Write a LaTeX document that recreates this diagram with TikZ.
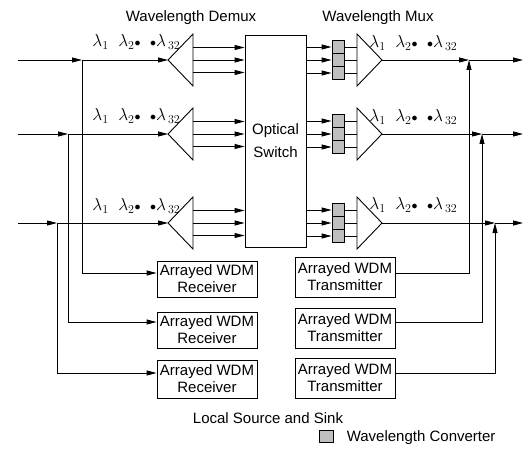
\documentclass[tikz,border=0pt]{standalone}
\usepackage{fontspec}
\setmainfont{Liberation Sans}
\usetikzlibrary{arrows.meta,calc}
\begin{document}
\begin{tikzpicture}[x=1pt,y=-1pt,line width=0.9pt,
 arr/.style={-{Triangle[length=10pt,width=5pt]}},
 conv/.style={draw,fill=gray!50,minimum width=12pt,minimum height=13pt,inner sep=0pt},
 wdmbox/.style={draw,minimum width=100pt,inner sep=1pt,align=center,font=\fontsize{15}{17}\selectfont},
 lbl/.style={font=\fontsize{15}{17}\selectfont},
 lam/.style={anchor=west,inner sep=0pt,font=\fontsize{17}{19}\selectfont}]
\useasboundingbox (0,0) rectangle (532,470);
\node[lbl] (tdemux) at (191,18) {Wavelength Demux};
\node[lbl] (tmux) at (378,18) {Wavelength Mux};
\node[draw,minimum width=61pt,minimum height=212pt,align=center,font=\fontsize{15}{17}\selectfont] (sw) at (275.5,141) {Optical\\[6pt]Switch};
\node[wdmbox,minimum height=36pt] (rx1) at (207,279) {Arrayed WDM\\Receiver};
\node[wdmbox,minimum height=36pt] (rx2) at (207,330) {Arrayed WDM\\Receiver};
\node[wdmbox,minimum height=38pt] (rx3) at (207,379) {Arrayed WDM\\Receiver};
\node[wdmbox,minimum height=40pt] (tx1) at (345,277) {Arrayed WDM\\Transmitter};
\node[wdmbox,minimum height=40pt] (tx2) at (345,328) {Arrayed WDM\\Transmitter};
\node[wdmbox,minimum height=40pt] (tx3) at (345,378) {Arrayed WDM\\Transmitter};
\foreach \i/\y/\bx/\vx/\ly/\ry/\ro/\tf in {1/60/82/469/42/43/-6/-4, 2/134/68/482/116/117/-8/-6, 3/223/57/495/206/205/-6/-5} {
  \coordinate (in\i) at (18,\y);
  \coordinate (br\i) at (\bx,\y);
  \coordinate (dt\i) at (168,\y);
  \coordinate (mt\i) at (382,\y);
  \coordinate (ob\i) at (\vx,\y);
  \coordinate (out\i) at (523,\y);
  \draw (dt\i) -- (193,{\y-26}) -- (193,{\y+26}) -- cycle;
  \draw (357,{\y-26}) -- (mt\i) -- (357,{\y+26}) -- cycle;
  \foreach \j/\k in {a/-12.5,b/0,c/12.5} {
    \coordinate (do\i\j) at (193,{\y+\k});
    \draw[arr] (do\i\j) -- (do\i\j -| sw.west);
  }
  \foreach \j/\k in {a/-13,b/0,c/13} {
    \node[conv] (cv\i\j) at (338,{\y+\k}) {};
    \draw[arr] (cv\i\j.west -| sw.east) -- (cv\i\j.west);
    \coordinate (mb\i\j) at (357,{\y+\k});
    \draw (cv\i\j.east) -- (mb\i\j);
  }
  \draw[arr] (in\i) -- (br\i);
  \draw[arr] (br\i) -- (dt\i);
  \draw[arr] (br\i) |- ($(rx\i.west)+(0,\ro)$);
  \draw[arr] (mt\i) -- (ob\i);
  \draw[arr] (ob\i) -- (out\i);
  \draw[arr] ($(tx\i.east)+(0,\tf)$) -| (ob\i);
  \node[lam] (ll\i) at (92,\ly) {$\lambda_1\;\;\lambda_2{\scriptstyle\bullet}\;\;{\scriptstyle\bullet}\lambda_{\,32}$};
  \node[lam] (lr\i) at (369,\ry) {$\lambda_1\;\;\lambda_2{\scriptstyle\bullet}\;\;{\scriptstyle\bullet}\lambda_{\,32}$};
}
\node[lbl] (ls) at (268,418) {Local Source and Sink};
\node[conv,minimum width=14pt,minimum height=12pt] (lg) at (326,436) {};
\node[lbl,anchor=west] (lgt) at (343,438) {Wavelength Converter};
\end{tikzpicture}
\end{document}
